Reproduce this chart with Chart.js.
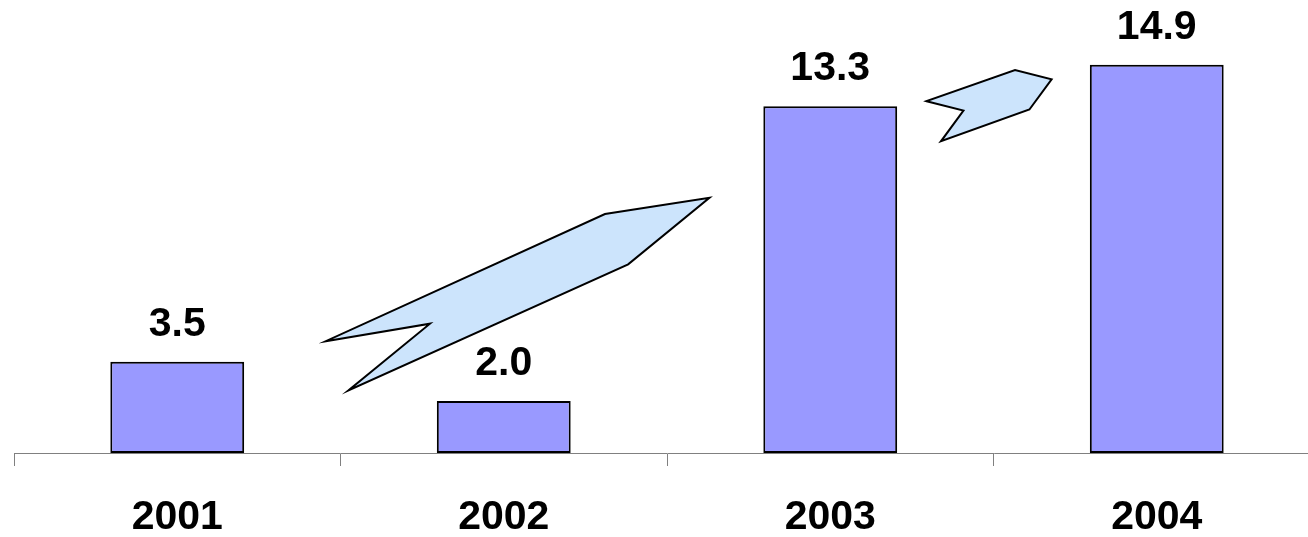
<!DOCTYPE html>
<html>
<head>
<meta charset="utf-8">
<script src="https://cdn.jsdelivr.net/npm/chart.js@4/dist/chart.umd.min.js"></script>
<style>
  html, body { margin: 0; padding: 0; background: #fff; overflow: hidden; }
  #wrap { width: 1330px; height: 537px; }
</style>
</head>
<body>
<div id="wrap"><canvas id="chart" width="1330" height="537"></canvas></div>
<script>
// Chart data
const years = ['2001', '2002', '2003', '2004'];
const values = [3.5, 2.0, 13.3, 14.9];

// Decorative growth arrows, in data units (x = category index, y = value)
const arrowA = [[0.455, 4.29], [0.774, 4.96], [0.524, 2.40], [1.381, 7.24], [1.630, 9.79], [1.310, 9.17]];
const arrowB = [[2.295, 13.50], [2.408, 13.14], [2.339, 11.96], [2.610, 13.18], [2.678, 14.34], [2.566, 14.69]];

const FONT = '"Liberation Sans", Arial, sans-serif';

// Draw the arrows and value labels
const extras = {
    id: 'extras',
    afterDatasetsDraw(chart) {
        const ctx = chart.ctx;
        const xs = chart.scales.x;
        const ys = chart.scales.y;

        [arrowA, arrowB].forEach(shape => {
            ctx.save();
            ctx.beginPath();
            shape.forEach((p, i) => {
                const px = xs.getPixelForValue(p[0]);
                const py = ys.getPixelForValue(p[1]);
                if (i === 0) ctx.moveTo(px, py); else ctx.lineTo(px, py);
            });
            ctx.closePath();
            ctx.fillStyle = '#CCE4FC';
            ctx.fill();
            ctx.lineWidth = 2;
            ctx.lineJoin = 'miter';
            ctx.strokeStyle = '#000';
            ctx.stroke();
            ctx.restore();
        });

        const meta = chart.getDatasetMeta(0);
        ctx.save();
        ctx.font = 'bold 41px ' + FONT;
        ctx.fillStyle = '#000';
        ctx.textAlign = 'center';
        ctx.textBaseline = 'alphabetic';
        meta.data.forEach((bar, i) => {
            ctx.fillText(values[i].toFixed(1), bar.x, bar.y - 26);
        });
        ctx.restore();
    }
};

new Chart(document.getElementById('chart'), {
    type: 'bar',
    data: {
        labels: years,
        datasets: [{
            data: values,
            backgroundColor: '#9999FF',
            borderColor: '#000000',
            borderWidth: 2,
            borderSkipped: false,
            categoryPercentage: 1.0,
            barPercentage: 0.41
        }]
    },
    options: {
        responsive: false,
        animation: false,
        layout: { padding: { left: 14, right: 10, top: 36, bottom: 0 } },
        plugins: {
            legend: { display: false },
            tooltip: { enabled: false }
        },
        scales: {
            x: {
                offset: true,
                grid: {
                    offset: true,
                    drawOnChartArea: false,
                    drawTicks: true,
                    tickLength: 13,
                    color: '#808080',
                    lineWidth: 1
                },
                border: { display: true, color: '#808080', width: 1 },
                ticks: {
                    color: '#000',
                    padding: 27,
                    font: { family: FONT, size: 41, weight: 'bold' }
                },
                afterFit(scale) { scale.height = 84; }
            },
            y: {
                display: false,
                min: 0,
                max: 16
            }
        }
    },
    plugins: [extras]
});
</script>
</body>
</html>
